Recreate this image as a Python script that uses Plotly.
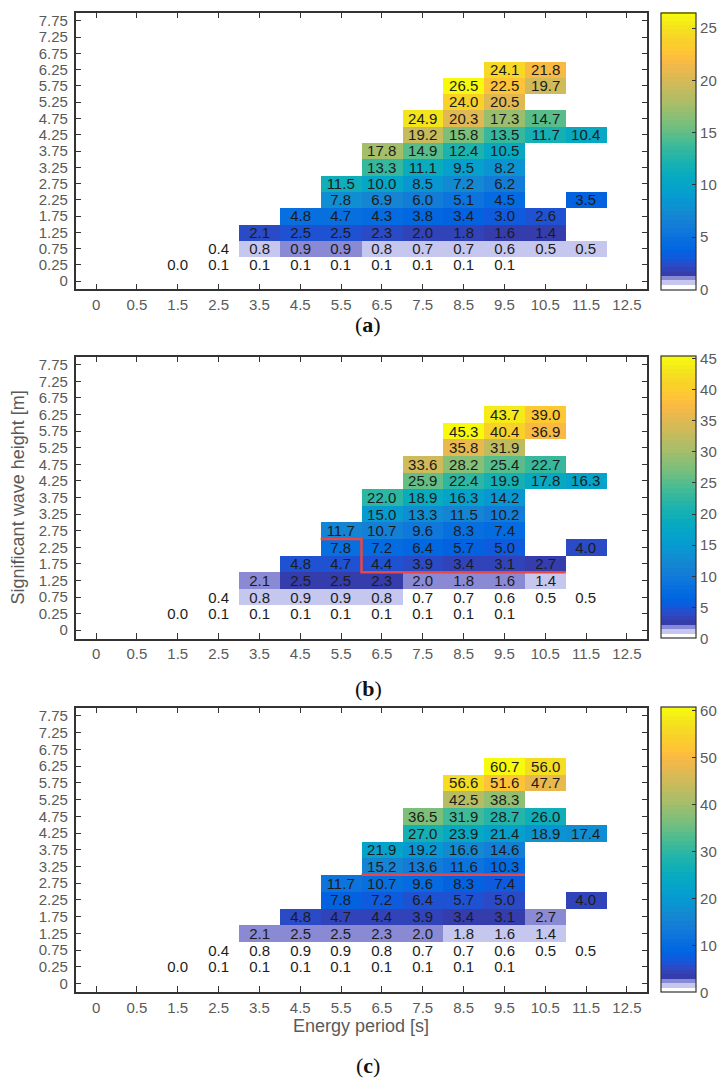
import plotly.graph_objects as go

W, H = 722, 1079

# Axis categories
period_labels = ["0", "0.5", "1.5", "2.5", "3.5", "4.5", "5.5", "6.5",
                 "7.5", "8.5", "9.5", "10.5", "11.5", "12.5"]
height_labels = ["0", "0.25", "0.75", "1.25", "1.75", "2.25", "2.75", "3.25",
                 "3.75", "4.25", "4.75", "5.25", "5.75", "6.25", "6.75",
                 "7.25", "7.75"]

N = None
# Rows keyed by significant wave height; one entry per energy-period column
power_a = {
    "6.25": [N, N, N, N, N, N, N, N, N, N, 24.1, 21.8, N, N],
    "5.75": [N, N, N, N, N, N, N, N, N, 26.5, 22.5, 19.7, N, N],
    "5.25": [N, N, N, N, N, N, N, N, N, 24.0, 20.5, N, N, N],
    "4.75": [N, N, N, N, N, N, N, N, 24.9, 20.3, 17.3, 14.7, N, N],
    "4.25": [N, N, N, N, N, N, N, N, 19.2, 15.8, 13.5, 11.7, 10.4, N],
    "3.75": [N, N, N, N, N, N, N, 17.8, 14.9, 12.4, 10.5, N, N, N],
    "3.25": [N, N, N, N, N, N, N, 13.3, 11.1, 9.5, 8.2, N, N, N],
    "2.75": [N, N, N, N, N, N, 11.5, 10.0, 8.5, 7.2, 6.2, N, N, N],
    "2.25": [N, N, N, N, N, N, 7.8, 6.9, 6.0, 5.1, 4.5, N, 3.5, N],
    "1.75": [N, N, N, N, N, 4.8, 4.7, 4.3, 3.8, 3.4, 3.0, 2.6, N, N],
    "1.25": [N, N, N, N, 2.1, 2.5, 2.5, 2.3, 2.0, 1.8, 1.6, 1.4, N, N],
    "0.75": [N, N, N, 0.4, 0.8, 0.9, 0.9, 0.8, 0.7, 0.7, 0.6, 0.5, 0.5, N],
    "0.25": [N, N, 0.0, 0.1, 0.1, 0.1, 0.1, 0.1, 0.1, 0.1, 0.1, N, N, N],
}
power_b = {
    "6.25": [N, N, N, N, N, N, N, N, N, N, 43.7, 39.0, N, N],
    "5.75": [N, N, N, N, N, N, N, N, N, 45.3, 40.4, 36.9, N, N],
    "5.25": [N, N, N, N, N, N, N, N, N, 35.8, 31.9, N, N, N],
    "4.75": [N, N, N, N, N, N, N, N, 33.6, 28.2, 25.4, 22.7, N, N],
    "4.25": [N, N, N, N, N, N, N, N, 25.9, 22.4, 19.9, 17.8, 16.3, N],
    "3.75": [N, N, N, N, N, N, N, 22.0, 18.9, 16.3, 14.2, N, N, N],
    "3.25": [N, N, N, N, N, N, N, 15.0, 13.3, 11.5, 10.2, N, N, N],
    "2.75": [N, N, N, N, N, N, 11.7, 10.7, 9.6, 8.3, 7.4, N, N, N],
    "2.25": [N, N, N, N, N, N, 7.8, 7.2, 6.4, 5.7, 5.0, N, 4.0, N],
    "1.75": [N, N, N, N, N, 4.8, 4.7, 4.4, 3.9, 3.4, 3.1, 2.7, N, N],
    "1.25": [N, N, N, N, 2.1, 2.5, 2.5, 2.3, 2.0, 1.8, 1.6, 1.4, N, N],
    "0.75": [N, N, N, 0.4, 0.8, 0.9, 0.9, 0.8, 0.7, 0.7, 0.6, 0.5, 0.5, N],
    "0.25": [N, N, 0.0, 0.1, 0.1, 0.1, 0.1, 0.1, 0.1, 0.1, 0.1, N, N, N],
}
power_c = {
    "6.25": [N, N, N, N, N, N, N, N, N, N, 60.7, 56.0, N, N],
    "5.75": [N, N, N, N, N, N, N, N, N, 56.6, 51.6, 47.7, N, N],
    "5.25": [N, N, N, N, N, N, N, N, N, 42.5, 38.3, N, N, N],
    "4.75": [N, N, N, N, N, N, N, N, 36.5, 31.9, 28.7, 26.0, N, N],
    "4.25": [N, N, N, N, N, N, N, N, 27.0, 23.9, 21.4, 18.9, 17.4, N],
    "3.75": [N, N, N, N, N, N, N, 21.9, 19.2, 16.6, 14.6, N, N, N],
    "3.25": [N, N, N, N, N, N, N, 15.2, 13.6, 11.6, 10.3, N, N, N],
    "2.75": [N, N, N, N, N, N, 11.7, 10.7, 9.6, 8.3, 7.4, N, N, N],
    "2.25": [N, N, N, N, N, N, 7.8, 7.2, 6.4, 5.7, 5.0, N, 4.0, N],
    "1.75": [N, N, N, N, N, 4.8, 4.7, 4.4, 3.9, 3.4, 3.1, 2.7, N, N],
    "1.25": [N, N, N, N, 2.1, 2.5, 2.5, 2.3, 2.0, 1.8, 1.6, 1.4, N, N],
    "0.75": [N, N, N, 0.4, 0.8, 0.9, 0.9, 0.8, 0.7, 0.7, 0.6, 0.5, 0.5, N],
    "0.25": [N, N, 0.0, 0.1, 0.1, 0.1, 0.1, 0.1, 0.1, 0.1, 0.1, N, N, N],
}

# Rated-power boundary: for each period column, the Hs row whose lower edge it follows
rated_b = {"5.5": "2.75", "6.5": "1.75", "7.5": "1.75", "8.5": "1.75",
           "9.5": "1.75", "10.5": "1.75"}
rated_c = {"6.5": "3.25", "7.5": "3.25", "8.5": "3.25", "9.5": "3.25"}

# parula(64) with its lowest three entries replaced by white and two lavenders
parula = [
    [0.2081, 0.1663, 0.5292], [0.2116, 0.1898, 0.5777], [0.2123, 0.2138, 0.6270],
    [0.2081, 0.2386, 0.6771], [0.1959, 0.2645, 0.7279], [0.1707, 0.2919, 0.7792],
    [0.1253, 0.3242, 0.8303], [0.0591, 0.3598, 0.8683], [0.0117, 0.3875, 0.8820],
    [0.0060, 0.4086, 0.8828], [0.0165, 0.4266, 0.8786], [0.0329, 0.4430, 0.8720],
    [0.0498, 0.4586, 0.8641], [0.0629, 0.4737, 0.8554], [0.0723, 0.4887, 0.8467],
    [0.0779, 0.5040, 0.8384], [0.0793, 0.5200, 0.8312], [0.0749, 0.5375, 0.8263],
    [0.0641, 0.5570, 0.8240], [0.0488, 0.5772, 0.8228], [0.0343, 0.5966, 0.8199],
    [0.0265, 0.6137, 0.8135], [0.0239, 0.6287, 0.8038], [0.0231, 0.6418, 0.7913],
    [0.0228, 0.6535, 0.7768], [0.0267, 0.6642, 0.7607], [0.0384, 0.6743, 0.7436],
    [0.0590, 0.6838, 0.7254], [0.0843, 0.6928, 0.7062], [0.1133, 0.7015, 0.6859],
    [0.1453, 0.7098, 0.6646], [0.1801, 0.7177, 0.6424], [0.2178, 0.7250, 0.6193],
    [0.2586, 0.7317, 0.5954], [0.3022, 0.7376, 0.5712], [0.3482, 0.7424, 0.5473],
    [0.3953, 0.7459, 0.5244], [0.4420, 0.7481, 0.5033], [0.4871, 0.7491, 0.4840],
    [0.5300, 0.7491, 0.4661], [0.5709, 0.7485, 0.4494], [0.6099, 0.7473, 0.4337],
    [0.6473, 0.7456, 0.4188], [0.6834, 0.7435, 0.4044], [0.7184, 0.7411, 0.3905],
    [0.7525, 0.7384, 0.3768], [0.7858, 0.7356, 0.3633], [0.8185, 0.7327, 0.3498],
    [0.8507, 0.7299, 0.3360], [0.8824, 0.7274, 0.3217], [0.9139, 0.7258, 0.3063],
    [0.9450, 0.7261, 0.2886], [0.9739, 0.7314, 0.2666], [0.9938, 0.7455, 0.2403],
    [0.9990, 0.7653, 0.2164], [0.9955, 0.7861, 0.1967], [0.9880, 0.8066, 0.1794],
    [0.9789, 0.8271, 0.1633], [0.9697, 0.8481, 0.1475], [0.9626, 0.8705, 0.1309],
    [0.9589, 0.8949, 0.1132], [0.9598, 0.9218, 0.0948], [0.9661, 0.9514, 0.0755],
    [0.9763, 0.9831, 0.0538],
]
cmap = [f"rgb({int(r*255)},{int(g*255)},{int(b*255)})" for r, g, b in parula]
cmap[0] = "rgb(255,255,255)"
cmap[1] = "rgb(198,199,238)"
cmap[2] = "rgb(138,138,212)"
n = len(cmap)
colorscale = []
for k, c in enumerate(cmap):
    colorscale.append([k / n, c])
    colorscale.append([(k + 1) / n, c])

FONT = "Liberation Sans, Arial, Helvetica, sans-serif"
TICK_GREY = "#5a5a5a"
LINE = "#333333"

# pixel geometry of each panel (top, bottom of the plot frame)
panels = [
    ("a", power_a, None, 12.7, 289.3, 5),
    ("b", power_b, rated_b, 356.5, 638.5, 5),
    ("c", power_c, rated_c, 707.5, 992.0, 10),
]
X0, X1 = 76, 650
CB_X0, CB_X1 = 664, 699
label_y = {"a": 324, "b": 688, "c": 1065}

fig = go.Figure()
xi = list(range(len(period_labels)))
yi = list(range(len(height_labels)))

for p, (name, table, rated, top, bot, dtick) in enumerate(panels, start=1):
    z = [[None] * len(period_labels) for _ in height_labels]
    for hl, row in table.items():
        z[height_labels.index(hl)] = row
    text = [["" if v is None else f"{v:.1f}" for v in row] for row in z]
    zmax = max(v for row in table.values() for v in row if v is not None)
    sfx = "" if p == 1 else str(p)
    ydom = [1 - bot / H, 1 - top / H]
    fig.add_trace(go.Heatmap(
        x=xi, y=yi, z=z, text=text, texttemplate="%{text}",
        textfont=dict(family=FONT, size=15, color="#1c1c1c"),
        colorscale=colorscale, zmin=0, zmax=zmax,
        xaxis="x" + sfx, yaxis="y" + sfx, hoverongaps=False,
        colorbar=dict(
            x=CB_X0 / W, xanchor="left", xpad=0,
            y=sum(ydom) / 2, yanchor="middle", ypad=0,
            len=(bot - top) / H, lenmode="fraction",
            thickness=CB_X1 - CB_X0, thicknessmode="pixels",
            outlinewidth=1.2, outlinecolor=LINE,
            ticks="inside", ticklen=4, tickcolor=LINE, tickwidth=1,
            tick0=0, dtick=dtick,
            tickfont=dict(family=FONT, size=15, color=TICK_GREY),
        ),
    ))
    if rated:
        px, py = [], []
        for col, row in rated.items():
            cx = period_labels.index(col)
            ry = height_labels.index(row) - 0.5
            px += [cx - 0.5, cx + 0.5]
            py += [ry, ry]
        fig.add_trace(go.Scatter(
            x=px, y=py, mode="lines", line=dict(color="#ec4545", width=2.5),
            xaxis="x" + sfx, yaxis="y" + sfx, showlegend=False, hoverinfo="skip",
        ))
    axis_common = dict(showline=True, linecolor=LINE, linewidth=1.5, mirror="ticks",
                       ticks="inside", ticklen=6, tickcolor=LINE, tickwidth=1.2,
                       showgrid=False, zeroline=False,
                       tickfont=dict(family=FONT, size=15, color=TICK_GREY))
    fig.update_layout(**{
        "xaxis" + sfx: dict(domain=[X0 / W, X1 / W], range=[-0.5, len(xi) - 0.5],
                            tickvals=xi, ticktext=period_labels, anchor="y" + sfx,
                            ticklabelstandoff=1, **axis_common),
        "yaxis" + sfx: dict(domain=ydom, range=[-0.5, len(yi) - 0.5],
                            tickvals=yi, ticktext=height_labels, anchor="x" + sfx,
                            ticklabelstandoff=3, **axis_common),
    })
    fig.add_annotation(text=f"(<b>{name}</b>)", x=370 / W, y=1 - label_y[name] / H,
                       xref="paper", yref="paper", xanchor="center", yanchor="middle",
                       showarrow=False,
                       font=dict(family="Liberation Serif, serif", size=22, color="#111"))

fig.add_annotation(text="Significant wave height [m]", textangle=-90,
                   x=19 / W, y=1 - (356.5 + 638.5) / 2 / H, xref="paper", yref="paper",
                   xanchor="center", yanchor="middle",
                   showarrow=False, font=dict(family=FONT, size=18, color=TICK_GREY))
fig.add_annotation(text="Energy period [s]",
                   x=(X0 + X1) / 2 / W, y=1 - 1026 / H, xref="paper", yref="paper",
                   xanchor="center", yanchor="middle",
                   showarrow=False, font=dict(family=FONT, size=18, color=TICK_GREY))

fig.update_layout(width=W, height=H, margin=dict(l=0, r=0, t=0, b=0),
                  paper_bgcolor="white", plot_bgcolor="white", showlegend=False)

fig.write_html("out.html")
